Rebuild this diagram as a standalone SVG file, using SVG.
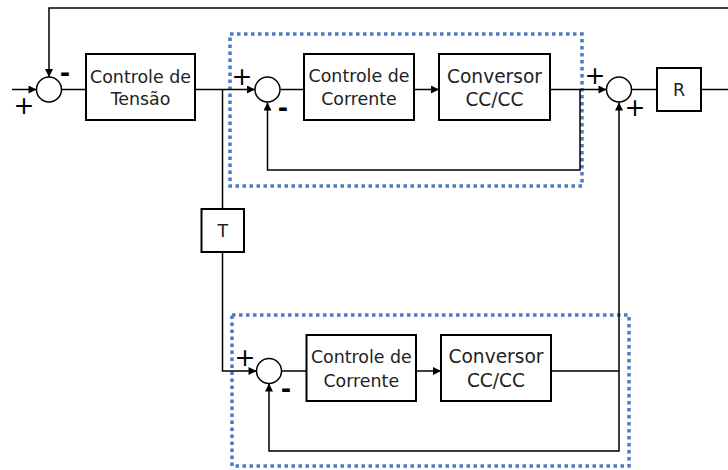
<svg xmlns="http://www.w3.org/2000/svg" width="728" height="470" viewBox="0 0 728 470">
  <style>
    .blk { fill: #fff; stroke: #000; stroke-width: 2; }
    .sum { fill: #fff; stroke: #000; stroke-width: 1.5; }
    .wire { fill: none; stroke: #000; stroke-width: 1.5; }
    .grp { fill: none; stroke: #4f7ac6; stroke-width: 3.5; stroke-dasharray: 3.5 3.5; }
    .lbl { font-family: "DejaVu Sans", Verdana, sans-serif; font-size: 17.4px; fill: #222; text-anchor: middle; }
    .big { font-size: 18.6px; }
    .sgn { font-family: "DejaVu Sans", sans-serif; font-size: 25px; fill: #000; text-anchor: middle; dominant-baseline: central; }
    .neg { font-weight: bold; }
  </style>
  <defs>
    <marker id="arr" viewBox="0 0 10 10" refX="10" refY="5" markerWidth="9" markerHeight="8" markerUnits="userSpaceOnUse" orient="auto">
      <path d="M0,0 L10,5 L0,10 z" fill="#000"/>
    </marker>
  </defs>
  <rect width="728" height="470" fill="#fff"/>

  <!-- inner current loops (dotted frames) -->
  <rect id="frame-upper" class="grp" x="230" y="34" width="352" height="152"/>
  <rect id="frame-lower" class="grp" x="232" y="315" width="397" height="151"/>

  <g id="connectors">
    <path class="wire" d="M12,89.5 H36.5" marker-end="url(#arr)"/>
    <path class="wire" d="M728,8 H49 V77" marker-end="url(#arr)"/>
    <path class="wire" d="M61.5,89.5 H86"/>
    <path class="wire" d="M195,89.5 H255" marker-end="url(#arr)"/>
    <path class="wire" d="M222.5,89.5 V209"/>
    <path class="wire" d="M222.5,252 V371 H256.5" marker-end="url(#arr)"/>
    <path class="wire" d="M280.5,89.5 H304"/>
    <path class="wire" d="M414,89.5 H439" marker-end="url(#arr)"/>
    <path class="wire" d="M550,89.5 H606.5" marker-end="url(#arr)"/>
    <path class="wire" d="M580,89.5 V170 H267.5 V102.5" marker-end="url(#arr)"/>
    <path class="wire" d="M631.5,89.5 H657"/>
    <path class="wire" d="M701,89.5 H728"/>
    <path class="wire" d="M281.5,371 H306.5"/>
    <path class="wire" d="M416,371 H441" marker-end="url(#arr)"/>
    <path class="wire" d="M551,371 H619 V102.5" marker-end="url(#arr)"/>
    <path class="wire" d="M619,371 V451 H269 V383.5" marker-end="url(#arr)"/>
  </g>

  <g id="sum-voltage">
    <circle class="sum" cx="49" cy="89.5" r="12.5"/>
    <text class="sgn" x="24" y="105">+</text>
    <text class="sgn neg" x="65" y="72">-</text>
  </g>
  <g id="voltage-control">
    <rect class="blk" x="86" y="54" width="109" height="66"/>
    <text class="lbl" x="140.5" y="82.5">Controle de</text>
    <text class="lbl" x="140.5" y="105">Tensão</text>
  </g>
  <g id="sum-current-1">
    <circle class="sum" cx="267.5" cy="89.5" r="12.5"/>
    <text class="sgn" x="242" y="76">+</text>
    <text class="sgn neg" x="283" y="107">-</text>
  </g>
  <g id="current-control-1">
    <rect class="blk" x="304" y="54" width="110" height="66"/>
    <text class="lbl" x="359" y="82">Controle de</text>
    <text class="lbl" x="359" y="105">Corrente</text>
  </g>
  <g id="converter-1">
    <rect class="blk" x="439" y="54" width="111" height="66"/>
    <text class="lbl big" x="494.5" y="82.5">Conversor</text>
    <text class="lbl big" x="494.5" y="106">CC/CC</text>
  </g>
  <g id="sum-output">
    <circle class="sum" cx="619" cy="89.5" r="12.5"/>
    <text class="sgn" x="595" y="75">+</text>
    <text class="sgn" x="635" y="107">+</text>
  </g>
  <g id="load-R">
    <rect class="blk" x="657" y="68" width="44" height="43"/>
    <text class="lbl" x="679" y="96">R</text>
  </g>
  <g id="block-T">
    <rect class="blk" x="201.5" y="209" width="42.5" height="43"/>
    <text class="lbl" x="222.8" y="237">T</text>
  </g>
  <g id="sum-current-2">
    <circle class="sum" cx="269" cy="371" r="12.5"/>
    <text class="sgn" x="245" y="357">+</text>
    <text class="sgn neg" x="286" y="388">-</text>
  </g>
  <g id="current-control-2">
    <rect class="blk" x="306.5" y="335" width="109.5" height="66"/>
    <text class="lbl" x="361.3" y="363">Controle de</text>
    <text class="lbl" x="361.3" y="386.5">Corrente</text>
  </g>
  <g id="converter-2">
    <rect class="blk" x="441" y="335" width="110" height="66"/>
    <text class="lbl big" x="496" y="363">Conversor</text>
    <text class="lbl big" x="496" y="387">CC/CC</text>
  </g>
</svg>
